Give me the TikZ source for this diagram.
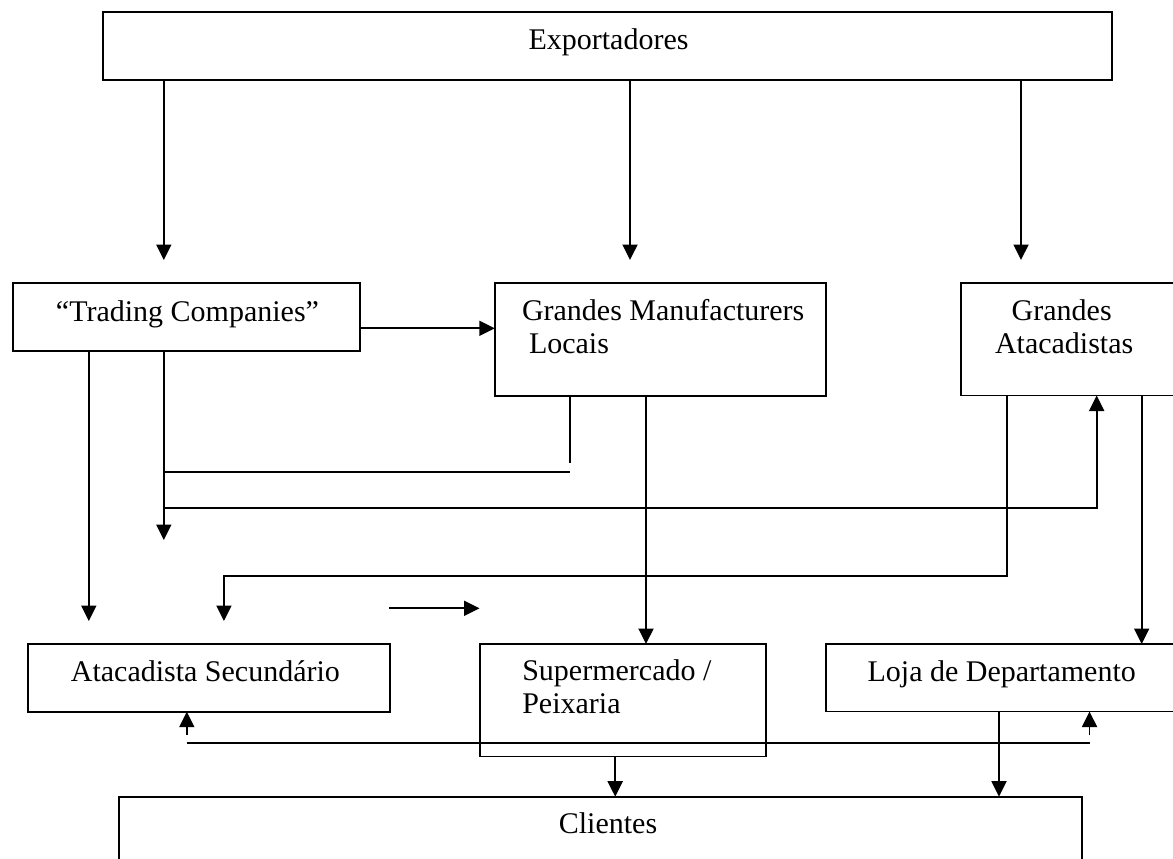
\documentclass[tikz,border=0pt]{standalone}
\usepackage{fontspec}
\setmainfont{Liberation Serif}
\usetikzlibrary{arrows.meta}
\tikzset{
  box/.style={draw, line width=1.9pt, rectangle, inner sep=0pt, outer sep=0pt, anchor=north west},
  txt/.style={inner sep=0pt, outer sep=0pt, font=\fontsize{30}{33}\selectfont},
  con/.style={line width=1.9pt},
  arr/.style={line width=1.9pt, -{Triangle[length=15.5pt,width=15pt]}}
}
\begin{document}
\begin{tikzpicture}[x=1pt,y=-1pt]
\useasboundingbox (0,0) rectangle (1173,859);
% boxes
\node[box, minimum width=1008.4pt, minimum height=67.7pt] (exp) at (103.3,12.3) {};
\node[box, minimum width=346.3pt, minimum height=67.4pt] (tc) at (13.4,283.3) {};
\node[box, minimum width=331pt, minimum height=112.7pt] (gm) at (494.8,283.3) {};
\node[box, minimum width=220pt, minimum height=112.5pt] (ga) at (960.7,283) {};
\node[box, minimum width=362.1pt, minimum height=67.7pt] (as) at (27.9,644) {};
\node[box, minimum width=285.7pt, minimum height=112.5pt] (sm) at (480,644) {};
\node[box, minimum width=356pt, minimum height=67.5pt] (lj) at (825.7,644) {};
\node[box, minimum width=962.7pt, minimum height=80pt] (cl) at (119,796.7) {};
% texts
\node[txt, anchor=base] (texp) at (608.5,50) {Exportadores};
\node[txt, anchor=base] (ttc) at (187.5,321.7) {“Trading Companies”};
\node[txt, anchor=base west] (tgm1) at (522,320) {Grandes Manufacturers};
\node[txt, anchor=base west] (tgm2) at (529,353) {Locais};
\node[txt, anchor=base west] (tga1) at (1011.7,320) {Grandes};
\node[txt, anchor=base west] (tga2) at (995,353) {Atacadistas};
\node[txt, anchor=base] (tas) at (205.4,681.7) {Atacadista Secundário};
\node[txt, anchor=base west] (tsm1) at (522.3,680) {Supermercado /};
\node[txt, anchor=base west] (tsm2) at (522.3,713) {Peixaria};
\node[txt, anchor=base] (tlj) at (1001.7,681.7) {Loja de Departamento};
\node[txt, anchor=base] (tcl) at (608,833) {Clientes};
% helper coordinates
\coordinate (e1) at (163.8,260);
\coordinate (e2) at (630,260);
\coordinate (e3) at (1021,260);
\coordinate (h4) at (0,328.3);
\coordinate (e5) at (88.8,621);
\coordinate (e6) at (163.8,540);
\coordinate (e7) at (570.2,463.3);
\coordinate (h7a) at (163.8,472.3);
\coordinate (h7b) at (570.2,472.3);
\coordinate (h8a) at (163.8,508.3);
\coordinate (h8b) at (1096.7,508.3);
\coordinate (b9a) at (1006.7,575.7);
\coordinate (b9b) at (223.9,575.7);
\coordinate (e9) at (223.9,621);
\coordinate (x10) at (646,0);
\coordinate (x11) at (1141.7,0);
\coordinate (s12) at (389.2,608.3);
\coordinate (e12) at (479.5,608.3);
\coordinate (s13) at (186.8,735);
\coordinate (h14a) at (186.8,743.3);
\coordinate (h14b) at (1089.5,743.3);
\coordinate (s15) at (1089.5,735);
\coordinate (x16) at (615.2,0);
\coordinate (x17) at (999,0);
% connectors
\draw[arr] (exp.south -| e1) -- (e1);
\draw[arr] (exp.south -| e2) -- (e2);
\draw[arr] (exp.south -| e3) -- (e3);
\draw[arr] (tc.east |- h4) -- (gm.west |- h4);
\draw[arr] (tc.south -| e5) -- (e5);
\draw[arr] (tc.south -| e6) -- (e6);
\draw[con] (gm.south -| e7) -- (e7);
\draw[con] (h7a) -- (h7b);
\draw[arr] (h8a) -- (h8b) -- (ga.south -| h8b);
\draw[arr] (ga.south -| b9a) -- (b9a) -- (b9b) -- (e9);
\draw[arr] (gm.south -| x10) -- (sm.north -| x10);
\draw[arr] (ga.south -| x11) -- (lj.north -| x11);
\draw[arr] (s12) -- (e12);
\draw[arr] (s13) -- (as.south -| s13);
\draw[con] (h14a) -- (h14b);
\draw[arr] (s15) -- (lj.south -| s15);
\draw[arr] (sm.south -| x16) -- (cl.north -| x16);
\draw[arr] (lj.south -| x17) -- (cl.north -| x17);
\end{tikzpicture}
\end{document}
